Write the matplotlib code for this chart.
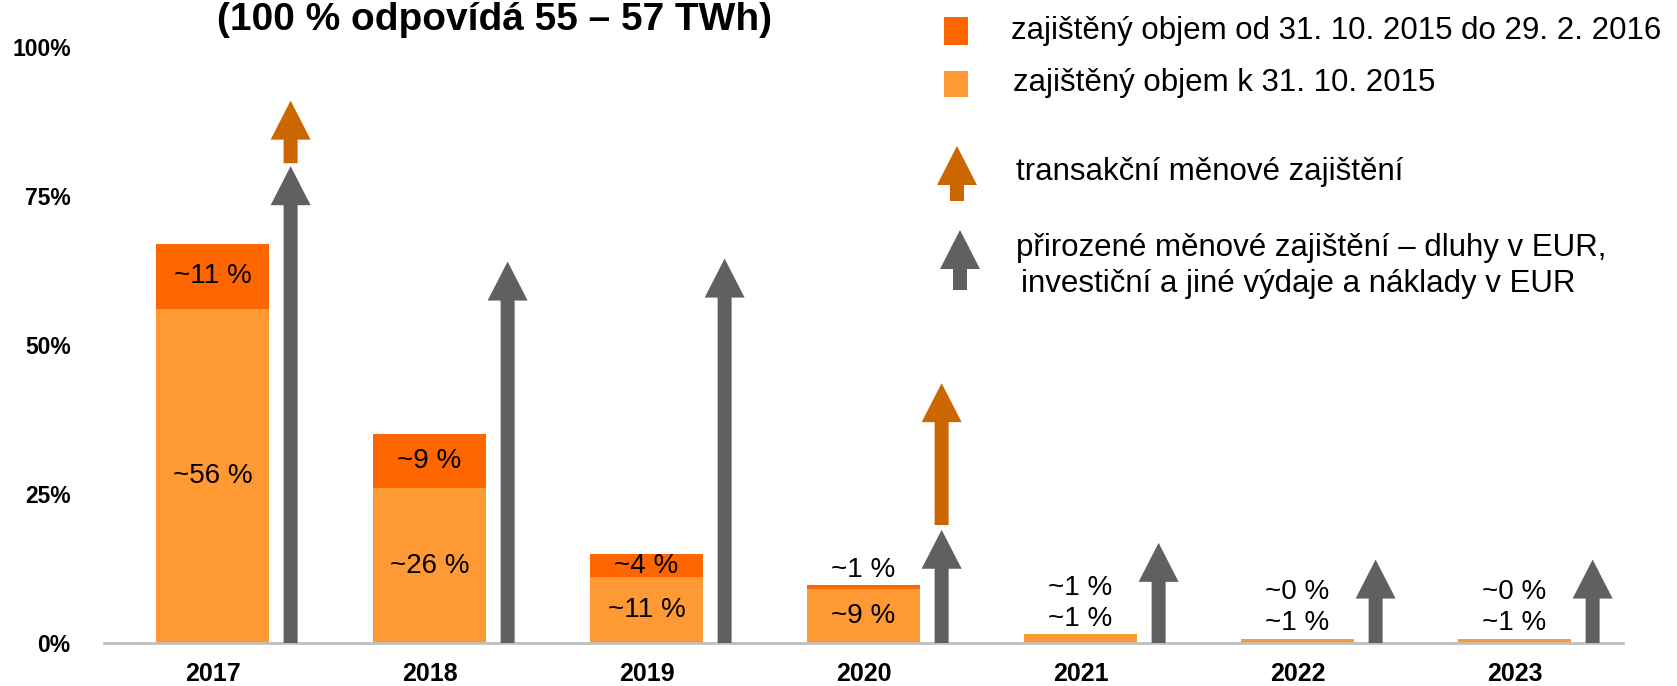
import matplotlib
matplotlib.use('Agg')
import matplotlib.pyplot as plt
from matplotlib.patches import FancyArrow, Rectangle
import numpy as np

plt.rcParams['font.family'] = ['Liberation Sans', 'DejaVu Sans']

years = ['2017', '2018', '2019', '2020', '2021', '2022', '2023']
# hedged volume (% of output) as of 31.10.2015 and added 31.10.2015 - 29.2.2016
hedged_oct = [56, 26, 11, 9, 1.5, 0.7, 0.7]
hedged_feb = [11, 9, 4, 0.7, 0.0, 0.0, 0.0]
labels_oct = ['~56 %', '~26 %', '~11 %', '~9 %', '~1 %', '~1 %', '~1 %']
labels_feb = ['~11 %', '~9 %', '~4 %', '~1 %', '~1 %', '~0 %', '~0 %']
# natural FX hedge (grey arrows) - arrow tip level
natural_fx = [80, 64, 64.5, 19, 16.8, 14, 14]
# transaction FX hedge (orange arrows)
trans_years = ['2017', '2020']
trans_start = [80.5, 19.8]
trans_end = [91, 43.6]

c_light = '#FF9933'
c_dark = '#FF6600'
c_grey = '#606060'
c_arrow = '#CC6600'

W, H = 1677, 686
fig = plt.figure(figsize=(W / 100, H / 100), dpi=100)
ax = fig.add_axes([104 / W, (H - 643) / H, (1623 - 104) / W, (643 - 47) / H])

x = np.arange(len(years))
bw = 0.52
ax.bar(x, hedged_oct, bw, color=c_light, zorder=2)
ax.bar(x, hedged_feb, bw, bottom=hedged_oct, color=c_dark, zorder=2)

# bar labels
for i in range(len(years)):
    top = hedged_oct[i] + hedged_feb[i]
    above = top + 2.6
    if hedged_oct[i] >= 3:
        ax.text(x[i], hedged_oct[i] / 2, labels_oct[i], ha='center', va='center', fontsize=20, zorder=3)
    else:
        ax.text(x[i], above, labels_oct[i], ha='center', va='center', fontsize=20, zorder=3)
        above += 5.2
    if hedged_feb[i] >= 3:
        ax.text(x[i], hedged_oct[i] + hedged_feb[i] / 2, labels_feb[i], ha='center', va='center', fontsize=20, zorder=3)
    else:
        ax.text(x[i], above, labels_feb[i], ha='center', va='center', fontsize=20, zorder=3)

# arrows
off = 0.36
sw, hw = 14 / 217, 40 / 217
hl = 39 / 5.96
for i in range(len(years)):
    ax.add_patch(FancyArrow(x[i] + off, 0, 0, natural_fx[i], width=sw, head_width=hw,
                            head_length=hl, length_includes_head=True, color=c_grey,
                            lw=0, zorder=3, clip_on=False))
for yr, s, e in zip(trans_years, trans_start, trans_end):
    xi = years.index(yr)
    ax.add_patch(FancyArrow(x[xi] + off, s, 0, e - s, width=sw, head_width=hw,
                            head_length=hl, length_includes_head=True, color=c_arrow,
                            lw=0, zorder=3, clip_on=False))

ax.set_xlim(-0.5, 6.5)
ax.set_ylim(0, 100)
ax.set_xticks(x)
ax.set_xticklabels(years, fontsize=18, fontweight='bold')
ax.set_yticks([0, 25, 50, 75, 100])
ax.set_yticklabels(['0%', '25%', '50%', '75%', '100%'], fontsize=16.5, fontweight='bold')
ax.tick_params(axis='x', length=0, pad=14)
ax.tick_params(axis='y', length=0, pad=24)
for s in ['top', 'right', 'left']:
    ax.spines[s].set_visible(False)
ax.spines['bottom'].set_color('#BFBFBF')
ax.spines['bottom'].set_linewidth(2)

fig.text(494 / W, 1 - 20 / H, '(100 % odpovídá 55 – 57 TWh)', ha='center', va='center',
         fontsize=28, fontweight='bold')

# legend, drawn in pixel coordinates
lg = fig.add_axes([0, 0, 1, 1])
lg.set_xlim(0, W)
lg.set_ylim(H, 0)
lg.axis('off')
lg.add_patch(Rectangle((944, 17), 24, 28, color=c_dark, lw=0))
lg.add_patch(Rectangle((944, 71), 24, 26, color=c_light, lw=0))
lg.add_patch(FancyArrow(957, 201, 0, -55, width=14, head_width=40, head_length=39,
                        length_includes_head=True, color=c_arrow, lw=0))
lg.add_patch(FancyArrow(960, 290, 0, -60, width=14, head_width=40, head_length=39,
                        length_includes_head=True, color=c_grey, lw=0))
fs = 22.5
lg.text(1011, 31, 'zajištěný objem od 31. 10. 2015 do 29. 2. 2016', va='center', fontsize=fs)
lg.text(1013, 83, 'zajištěný objem k 31. 10. 2015', va='center', fontsize=fs)
lg.text(1016, 172, 'transakční měnové zajištění', va='center', fontsize=fs)
lg.text(1016, 248, 'přirozené měnové zajištění – dluhy v EUR,', va='center', fontsize=fs)
lg.text(1021, 284, 'investiční a jiné výdaje a náklady v EUR', va='center', fontsize=fs)

fig.savefig('out.png', dpi=100)
